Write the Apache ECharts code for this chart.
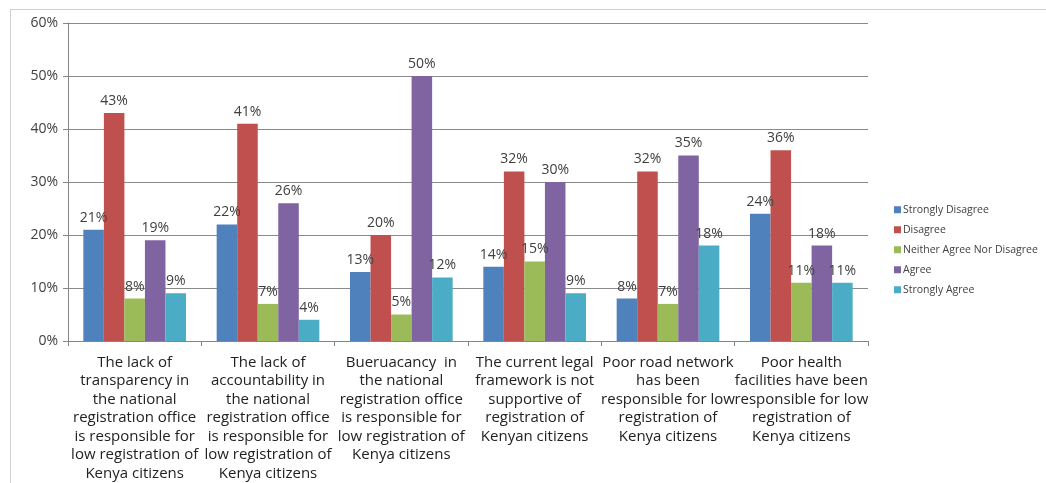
<!DOCTYPE html>
<html>
<head>
<meta charset="utf-8">
<script src="https://cdn.jsdelivr.net/npm/echarts@6/dist/echarts.min.js"></script>
<style>html,body{margin:0;padding:0;background:#fff}#c{width:1046px;height:483px}</style>
</head>
<body>
<div id="c"></div>
<script>
const categories = [
  "The lack of\ntransparency in\nthe national\nregistration office\nis responsible for\nlow registration of\nKenya citizens",
  "The lack of\naccountability in\nthe national\nregistration office\nis responsible for\nlow registration of\nKenya citizens",
  "Bueruacancy  in\nthe national\nregistration office\nis responsible for\nlow registration of\nKenya citizens",
  "The current legal\nframework is not\nsupportive of\nregistration of\nKenyan citizens",
  "Poor road network\nhas been\nresponsible for low\nregistration of\nKenya citizens",
  "Poor health\nfacilities have been\nresponsible for low\nregistration of\nKenya citizens"
];
const seriesNames = ["Strongly Disagree", "Disagree", "Neither Agree Nor Disagree", "Agree", "Strongly Agree"];
const stronglyDisagree = [21, 22, 13, 14, 8, 24];
const disagree = [43, 41, 20, 32, 32, 36];
const neither = [8, 7, 5, 15, 7, 11];
const agree = [19, 26, 50, 30, 35, 18];
const stronglyAgree = [9, 4, 12, 9, 18, 11];
const colors = ["#4F81BD", "#C0504D", "#9BBB59", "#8064A2", "#4BACC6"];
const values = [stronglyDisagree, disagree, neither, agree, stronglyAgree];

const chart = echarts.init(document.getElementById('c'));
const font = "'Open Sans', 'Liberation Sans', Arial, sans-serif";
chart.setOption({
  animation: false,
  color: colors,
  textStyle: { fontFamily: font },
  grid: { left: 68, right: 178, top: 23, bottom: 142, containLabel: false },
  graphic: [
    { type: 'line', shape: { x1: 10, y1: 9.5, x2: 1046, y2: 9.5 }, style: { stroke: '#d0d0d0', lineWidth: 1 } },
    { type: 'line', shape: { x1: 10.5, y1: 9, x2: 10.5, y2: 483 }, style: { stroke: '#d0d0d0', lineWidth: 1 } }
  ],
  legend: {
    orient: 'vertical', left: 889, top: 199,
    itemWidth: 7, itemHeight: 7, itemGap: 8.5, icon: 'rect',
    textStyle: { fontSize: 10.5, color: '#404040', fontFamily: font, lineHeight: 11.5, padding: [0, 0, 0, -3] },
    data: seriesNames
  },
  xAxis: {
    type: 'category', data: categories,
    axisLine: { lineStyle: { color: '#868686' } },
    axisTick: { show: true, length: 5, lineStyle: { color: '#868686' } },
    axisLabel: { interval: 0, fontSize: 15, color: '#222', lineHeight: 18.5, margin: 12, fontFamily: font }
  },
  yAxis: {
    type: 'value', min: 0, max: 60, interval: 10,
    axisLine: { show: true, lineStyle: { color: '#868686' } },
    axisTick: { show: true, length: 5, lineStyle: { color: '#868686' } },
    splitLine: { lineStyle: { color: '#8a8a8a' } },
    axisLabel: { formatter: '{value}%', fontSize: 14, color: '#404040', margin: 10, fontFamily: font }
  },
  series: seriesNames.map((n, i) => ({
    name: n, type: 'bar', data: values[i],
    barGap: '0%', barCategoryGap: '23%',
    label: { show: true, position: 'top', distance: 5, formatter: '{c}%', fontSize: 14, color: '#404040', fontFamily: font }
  }))
});
</script>
</body>
</html>
